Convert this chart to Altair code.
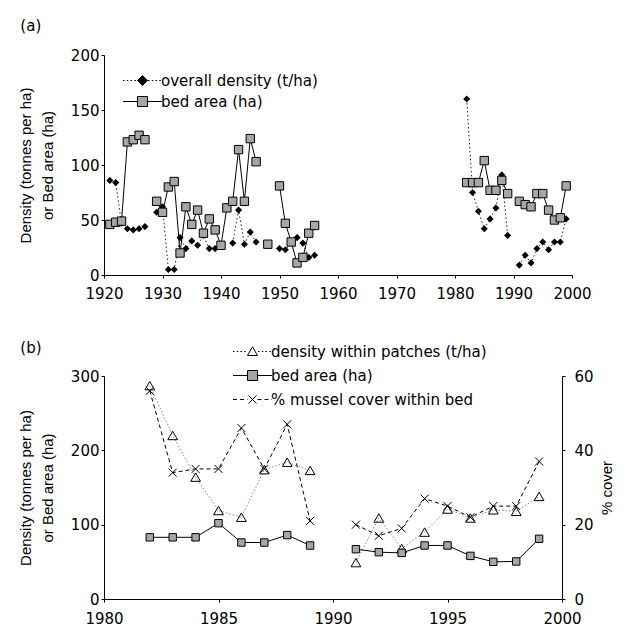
import altair as alt
import pandas as pd

# ---------------- data ----------------
years_a = list(range(1921, 1957)) + list(range(1982, 2000))
bed_a = [46, 48, 49, 121, 123, 127, 123, None, 67, 57, 80, 85, 20, 62, 46, 59, 38, 51, 41, 27,
         61, 67, 114, 67, 124, 103, None, 28, None, 81, 47, 30, 11, 16, 38, 45,
         84, 84, 84, 104, 77, 77, 86, 74, None, 67, 64, 62, 74, 74, 59, 50, 52, 81]
dens_a = [86, 84, 47, 42, 41, 42, 44, None, 57, 62, 5, 5, 34, 24, 31, 27, 36, 24, 24, 26,
          None, 29, 59, 28, 39, 30, None, 27, None, 24, 23, 29, 34, 29, 16, 18,
          160, 75, 58, 42, 51, 61, 91, 36, None, 9, 18, 11, 24, 30, 23, 30, 30, 51]

years_b = list(range(1982, 2000))
bed_b = [83, 83, 83, 102, 76, 76, 86, 72, None, 67, 63, 62, 72, 72, 58, 50, 50.5, 81]
dens_b = [287, 220, 164, 119, 110, 174, 184, 173, None, 49, 109, 68, 90, 121, 109, 120, 118, 138]
cover_b = [56, 34, 35, 35, 46, 35, 47, 21, None, 20, 17, 19, 27, 25, 22, 25, 25, 37]

ticks_a_x = [1920, 1930, 1940, 1950, 1960, 1970, 1980, 1990, 2000]
ticks_a_y = [0, 50, 100, 150, 200]
ticks_b_x = [1980, 1985, 1990, 1995, 2000]
ticks_b_y = [0, 100, 200, 300]
ticks_b_y2 = [0, 20, 40, 60]

names_a = ["overall density (t/ha)", "bed area (ha)"]
names_b = ["density within patches (t/ha)", "bed area (ha) ", "% mussel cover within bed"]


def segmented(years, values):
    rows, seg, prev = [], 0, None
    for y, v in zip(years, values):
        if v is None:
            seg += 1
            prev = None
            continue
        if prev is not None and y - prev > 1:
            seg += 1
        rows.append({"year": y, "value": v, "seg": seg})
        prev = y
    return pd.DataFrame(rows)


df_bed_a = segmented(years_a, bed_a)
df_dens_a = segmented(years_a, dens_a)
df_bed_b = segmented(years_b, bed_b)
df_dens_b = segmented(years_b, dens_b)
df_cover_b = segmented(years_b, cover_b)

# ---------------- legend symbol paths ----------------
def hline(x0, x1, dash=None, gap=None):
    if dash is None:
        return f"M{x0:.2f},0H{x1:.2f}"
    parts, x = [], x0
    while x < x1 - 1e-6:
        e = min(x + dash, x1)
        parts.append(f"M{x:.2f},0H{e:.2f}")
        x = e + gap
    return "".join(parts)

L = 3.9
DOT = (0.3, 0.45)
DASH = (0.8, 0.6)
p_diamond = hline(-L, -1.1, *DOT) + hline(1.1, L, *DOT) + "M0,-1L1,0L0,1L-1,0Z"
p_square = hline(-L, -1.0) + hline(1.0, L) + "M-1,-1H1V1H-1Z"
p_triangle = hline(-L, -1.1, *DOT) + hline(1.1, L, *DOT) + "M0,-0.95L1,0.8H-1Z"
p_cross = hline(-L, -1.0, *DASH) + hline(1.0, L, *DASH) + "M-0.8,-0.8L0.8,0.8M-0.8,0.8L0.8,-0.8"
X_PATH = "M-1,-1L1,1M-1,1L1,-1"

FONT = "DejaVu Sans"


def make_legend(x, y, rowpad):
    return alt.Legend(orient="none", legendX=x, legendY=y, title=None, padding=0,
                      symbolSize=100, symbolStrokeWidth=1,
                      symbolOpacity=1, symbolOffset=14.5, labelOffset=11, labelLimit=0,
                      labelFont=FONT, labelFontSize=15, labelColor="black",
                      rowPadding=rowpad)


# ---------------- panel (a) ----------------
xa = alt.X("year:Q", scale=alt.Scale(domain=[1920, 2000], nice=False),
           axis=alt.Axis(values=ticks_a_x, format="d", title=None, labelPadding=8,
                         labelFlush=False, labelOverlap=False))
ya = alt.Y("value:Q", scale=alt.Scale(domain=[0, 200], nice=False),
           axis=alt.Axis(values=ticks_a_y, title=["Density (tonnes per ha)", "or Bed area (ha)"],
                         titlePadding=15, titleLineHeight=22))

leg_a = make_legend(16.5, 18, 5)
legend_layer_a = alt.Chart(pd.DataFrame({"series": names_a})).transform_filter("false").mark_point(
    filled=True, opacity=1, stroke="black", strokeWidth=1).encode(
    color=alt.Color("series:N", scale=alt.Scale(domain=names_a, range=["black", "#a6a6a6"]), legend=leg_a),
    shape=alt.Shape("series:N", scale=alt.Scale(domain=names_a, range=[p_diamond, p_square]), legend=leg_a),
)

dens_line_a = alt.Chart(df_dens_a).mark_line(color="#222", strokeWidth=1, strokeDash=[1.5, 2.5]).encode(
    x=xa, y=ya, detail="seg:N")
dens_pts_a = alt.Chart(df_dens_a).mark_point(shape="diamond", filled=True, color="black", size=50,
                                              opacity=1).encode(x=xa, y=ya)
bed_line_a = alt.Chart(df_bed_a).mark_line(color="black", strokeWidth=1).encode(x=xa, y=ya, detail="seg:N")
bed_pts_a = alt.Chart(df_bed_a).mark_point(shape="square", filled=True, fill="#a6a6a6", stroke="black",
                                           strokeWidth=1, size=70, opacity=1).encode(x=xa, y=ya)

panel_a = alt.layer(legend_layer_a, dens_line_a, dens_pts_a, bed_line_a, bed_pts_a).properties(
    width=468, height=220,
    title=alt.TitleParams("(a)", anchor="start", frame="bounds", font=FONT, fontSize=15,
                          fontWeight="normal", color="black", offset=14, dx=2))

# ---------------- panel (b) ----------------
xb = alt.X("year:Q", scale=alt.Scale(domain=[1980, 2000], nice=False),
           axis=alt.Axis(values=ticks_b_x, format="d", title=None, labelPadding=9,
                         labelFlush=False, labelOverlap=False))
yb = alt.Y("value:Q", scale=alt.Scale(domain=[0, 300], nice=False),
           axis=alt.Axis(values=ticks_b_y, title=["Density (tonnes per ha)", "or Bed area (ha)"],
                         titlePadding=15, titleLineHeight=22))
yb2 = alt.Y("value:Q", scale=alt.Scale(domain=[0, 60], nice=False),
            axis=alt.Axis(values=ticks_b_y2, orient="right", title="% cover", titlePadding=21,
                          titleAngle=270, labelPadding=9))

leg_b = make_legend(126.5, -32, 8)
legend_layer_b = alt.Chart(pd.DataFrame({"series": names_b})).transform_filter("false").mark_point(
    filled=True, opacity=1, stroke="black", strokeWidth=1).encode(
    color=alt.Color("series:N", scale=alt.Scale(domain=names_b, range=["white", "#a6a6a6", "transparent"]),
                    legend=leg_b),
    shape=alt.Shape("series:N", scale=alt.Scale(domain=names_b, range=[p_triangle, p_square, p_cross]),
                    legend=leg_b),
)

dens_line_b = alt.Chart(df_dens_b).mark_line(color="#888", strokeWidth=1, strokeDash=[1.5, 2]).encode(
    x=xb, y=yb, detail="seg:N")
dens_pts_b = alt.Chart(df_dens_b).mark_point(shape="triangle-up", filled=False, color="black", size=95,
                                              strokeWidth=1, opacity=1).encode(x=xb, y=yb)
bed_line_b = alt.Chart(df_bed_b).mark_line(color="black", strokeWidth=1).encode(x=xb, y=yb, detail="seg:N")
bed_pts_b = alt.Chart(df_bed_b).mark_point(shape="square", filled=True, fill="#a6a6a6", stroke="black",
                                           strokeWidth=1, size=55, opacity=1).encode(x=xb, y=yb)
cover_line_b = alt.Chart(df_cover_b).mark_line(color="black", strokeWidth=1, strokeDash=[4, 3]).encode(
    x=xb, y=yb2, detail="seg:N")
cover_pts_b = alt.Chart(df_cover_b).mark_point(shape=X_PATH, filled=False, color="black", size=64,
                                               strokeWidth=1, opacity=1).encode(x=xb, y=yb2)

left_b = alt.layer(legend_layer_b, dens_line_b, dens_pts_b, bed_line_b, bed_pts_b)
right_b = alt.layer(cover_line_b, cover_pts_b)
panel_b = alt.layer(left_b, right_b).resolve_scale(y="independent").properties(
    width=458, height=223,
    title=alt.TitleParams("(b)", anchor="start", frame="bounds", font=FONT, fontSize=15,
                          fontWeight="normal", color="black", offset=-12, dx=2))

chart = alt.vconcat(panel_a, panel_b, spacing=40).resolve_scale(
    color="independent", shape="independent", x="independent"
).resolve_legend(color="independent", shape="independent").properties(
    padding={"left": 18, "top": 19, "right": 2, "bottom": 2}
).configure_view(stroke=None).configure_axis(
    labelFont=FONT, labelFontSize=15, labelColor="black",
    titleFont="Liberation Sans", titleFontSize=15, titleFontWeight="normal", titleColor="black",
    domainColor="black", domainWidth=1, tickColor="black", tickSize=3, labelPadding=2, grid=False
).configure_title(anchor="start")

chart.save("out.html", embed_options={"renderer": "svg", "actions": False})
